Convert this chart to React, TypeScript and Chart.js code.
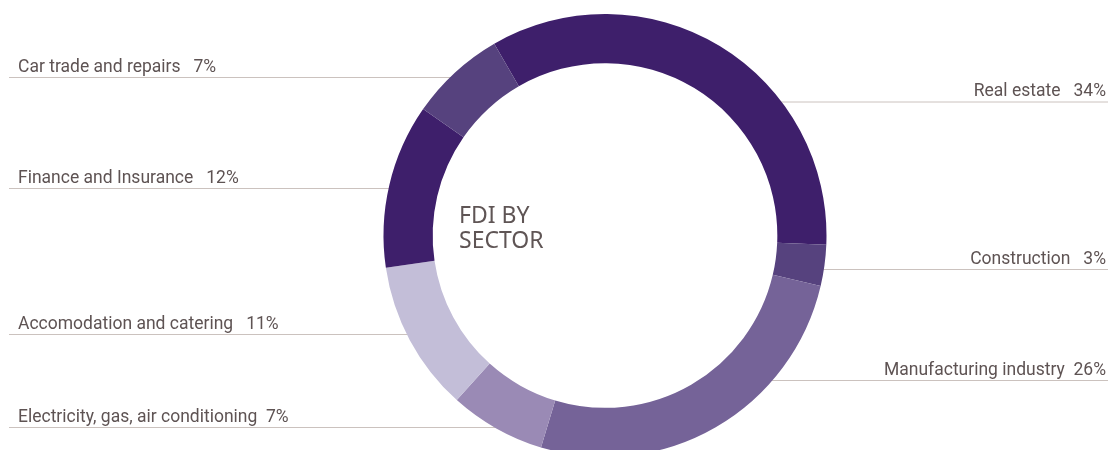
import React, { useEffect, useRef } from "react";
import { Chart, registerables } from "chart.js";

Chart.register(...registerables);

const categories = [
  "Real estate",
  "Construction",
  "Manufacturing industry",
  "Electricity, gas, air conditioning",
  "Accomodation and catering",
  "Finance and Insurance",
  "Car trade and repairs",
];
const values = [34, 3, 26, 7, 11, 12, 7];
const colors = ["#3e1f6b", "#56427e", "#756398", "#9a8ab5", "#c3bed8", "#3e1f6b", "#56427e"];
// side of label and its line's y position
const labelSide = ["right", "right", "right", "left", "left", "left", "left"];
const labelLineY = [101.5, 269, 380, 427, 334, 188, 77];
const labelGap = ["   ", "   ", "  ", "  ", "   ", "   ", "   "];
const centerLines = ["FDI BY", "SECTOR"];

const LABEL_FONT = 'Roboto, "Noto Sans", sans-serif';
const CENTER_FONT = '"Noto Sans", sans-serif';

const labelPlugin = {
  id: "sideLabels",
  beforeDatasetsDraw(chart: any) {
    const ctx = chart.ctx;
    const meta = chart.getDatasetMeta(0);
    const arc = meta.data[0];
    const cx = arc.x;
    const cy = arc.y;
    const rMid = (arc.outerRadius + arc.innerRadius) / 2;
    ctx.save();
    ctx.strokeStyle = "#cbc2be";
    ctx.lineWidth = 1;
    for (let i = 0; i < categories.length; i++) {
      const y = labelLineY[i];
      const dy = y - cy;
      const dx = Math.sqrt(Math.max(0, rMid * rMid - dy * dy));
      ctx.beginPath();
      if (labelSide[i] === "left") {
        ctx.moveTo(9, y + 0.5);
        ctx.lineTo(cx - dx, y + 0.5);
      } else {
        ctx.moveTo(cx + dx, y + 0.5);
        ctx.lineTo(1108, y + 0.5);
      }
      ctx.stroke();
    }
    ctx.restore();
  },
  afterDatasetsDraw(chart: any) {
    const ctx = chart.ctx;
    ctx.save();
    ctx.fillStyle = "#5e5353";
    ctx.font = `17.5px ${LABEL_FONT}`;
    ctx.textBaseline = "alphabetic";
    for (let i = 0; i < categories.length; i++) {
      const y = labelLineY[i] - 5.5;
      const text = categories[i] + labelGap[i] + values[i] + "%";
      if (labelSide[i] === "left") {
        ctx.textAlign = "left";
        ctx.fillText(text, 18, y);
      } else {
        ctx.textAlign = "right";
        ctx.fillText(text, 1106, y);
      }
    }
    ctx.font = `23px ${CENTER_FONT}`;
    ctx.fillStyle = "#5f5555";
    ctx.textAlign = "left";
    ctx.fillText(centerLines[0], 459, 223);
    ctx.fillText(centerLines[1], 459, 248);
    ctx.restore();
  },
};

export default function App() {
  const ref = useRef<HTMLCanvasElement>(null);
  useEffect(() => {
    document.body.style.margin = "0";
    document.body.style.overflow = "hidden";
    const chart = new Chart(ref.current!, {
      type: "doughnut",
      data: {
        labels: categories,
        datasets: [
          {
            data: values,
            backgroundColor: colors,
            borderWidth: 0,
          },
        ],
      },
      options: {
        animation: false,
        responsive: false,
        maintainAspectRatio: false,
        cutout: "77.8%",
        rotation: -30,
        layout: { padding: { top: 14, bottom: 3, left: 100, right: 0 } },
        plugins: {
          legend: { display: false },
          tooltip: { enabled: false },
        },
      },
      plugins: [labelPlugin],
    });
    return () => chart.destroy();
  }, []);
  return (
    <div style={{ position: "absolute", left: 0, top: 0, width: 1110, height: 450, overflow: "hidden" }}>
      <canvas ref={ref} width={1110} height={460} style={{ display: "block" }} />
    </div>
  );
}
